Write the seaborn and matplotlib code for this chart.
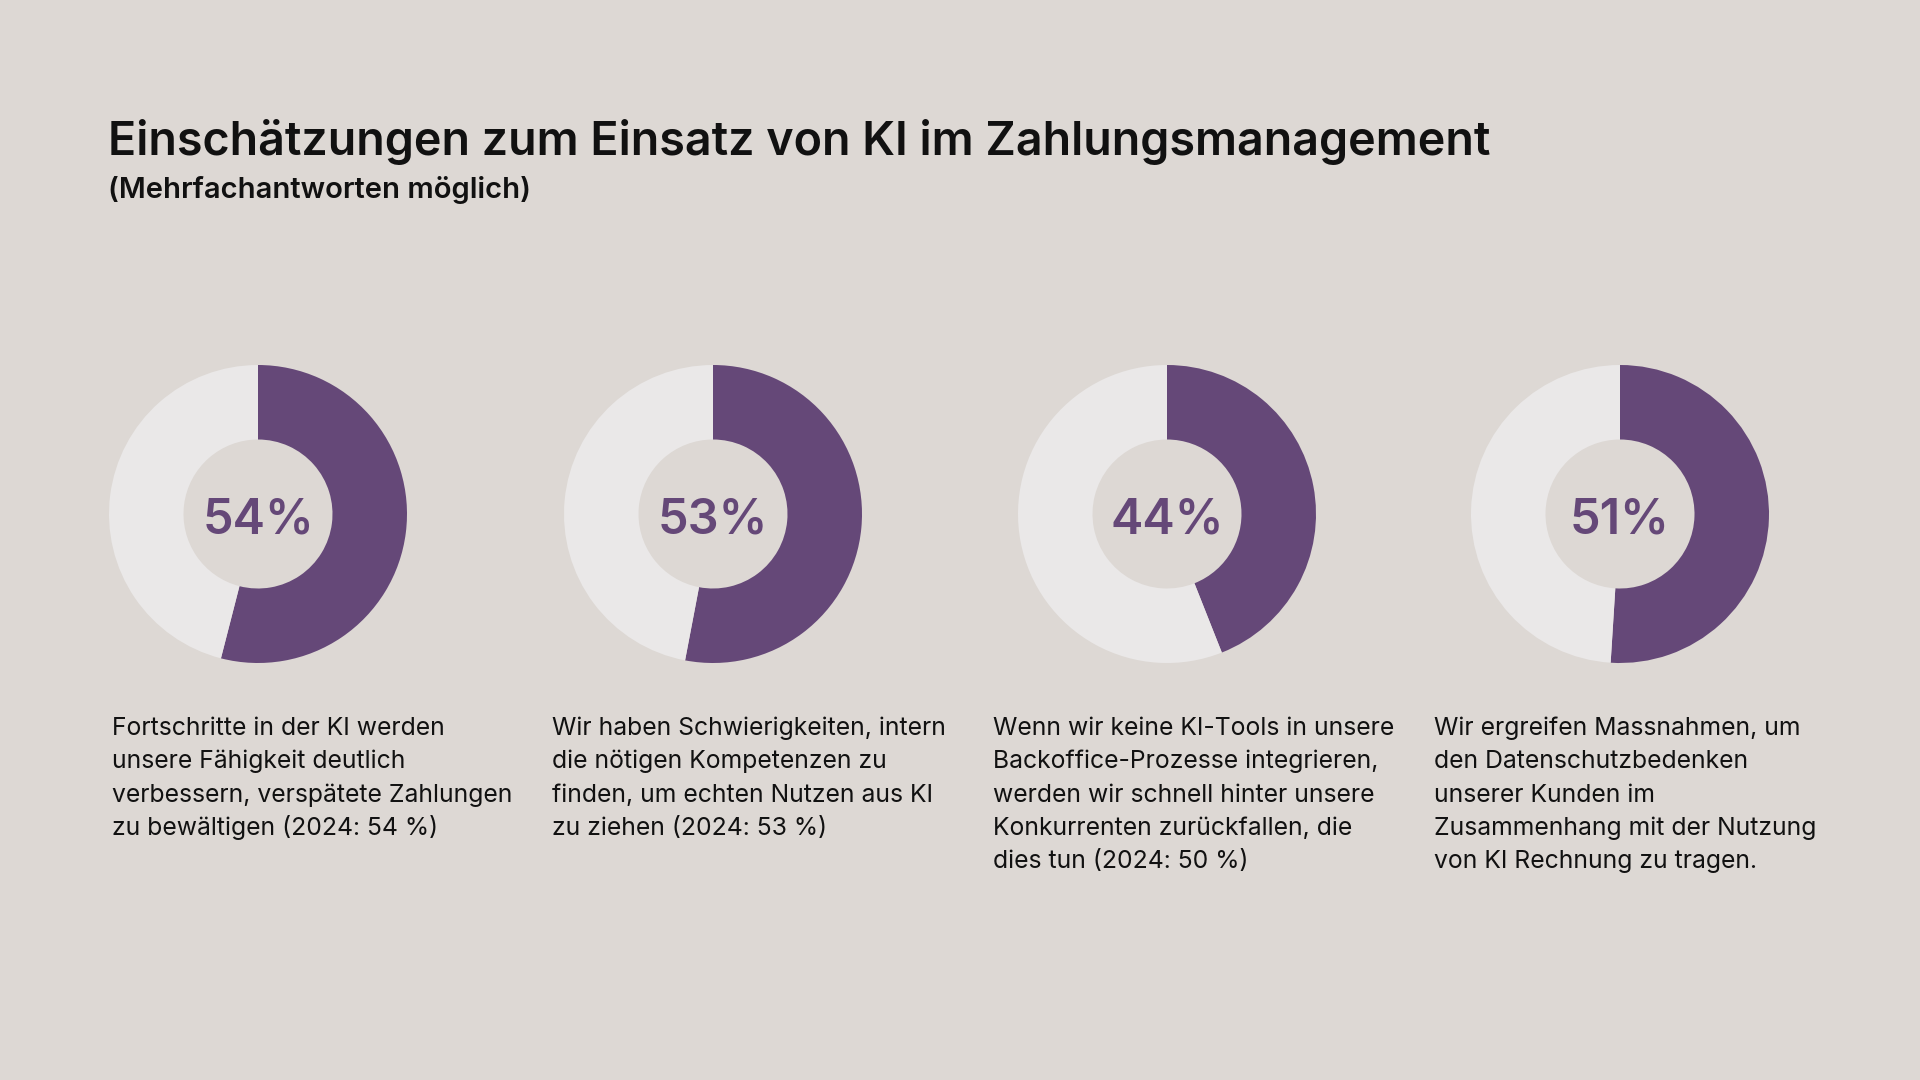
import seaborn as sns
import matplotlib.pyplot as plt

values = [54, 53, 44, 51]
labels = ["54%", "53%", "44%", "51%"]
descriptions = [
    "Fortschritte in der KI werden\nunsere Fähigkeit deutlich\nverbessern, verspätete Zahlungen\nzu bewältigen (2024: 54 %)",
    "Wir haben Schwierigkeiten, intern\ndie nötigen Kompetenzen zu\nfinden, um echten Nutzen aus KI\nzu ziehen (2024: 53 %)",
    "Wenn wir keine KI-Tools in unsere\nBackoffice-Prozesse integrieren,\nwerden wir schnell hinter unsere\nKonkurrenten zurückfallen, die\ndies tun (2024: 50 %)",
    "Wir ergreifen Massnahmen, um\nden Datenschutzbedenken\nunserer Kunden im\nZusammenhang mit der Nutzung\nvon KI Rechnung zu tragen.",
]
title = "Einschätzungen zum Einsatz von KI im Zahlungsmanagement"
subtitle = "(Mehrfachantworten möglich)"

bg = "#ddd8d4"
purple = "#654878"
light = "#eae8e8"

sns.set_theme(style="white")
plt.rcParams['font.family'] = ['Inter', 'DejaVu Sans']

W, H = 1920, 1080
fig = plt.figure(figsize=(19.2, 10.8), dpi=100)
fig.patch.set_facecolor(bg)

fig.text(108 / W, 1 - 155 / H, title, fontsize=33.6, fontweight='semibold',
         color='#111111', ha='left', va='baseline')
fig.text(108 / W, 1 - 198 / H, subtitle, fontsize=21, fontweight='semibold',
         color='#111111', ha='left', va='baseline')

centers_x = [258, 713, 1167, 1620]
cy = 514
r = 149
text_x = [112, 552, 993, 1434]
first_baseline = 735
line_step = 33.3

for i, v in enumerate(values):
    cx = centers_x[i]
    ax = fig.add_axes([(cx - r) / W, 1 - (cy + r) / H, 2 * r / W, 2 * r / H])
    ax.pie([v, 100 - v], colors=[purple, light], startangle=90, counterclock=False,
           radius=1, wedgeprops=dict(width=0.5, linewidth=0))
    ax.set_xlim(-1, 1)
    ax.set_ylim(-1, 1)
    ax.set_aspect('equal')
    ax.axis('off')
    fig.text(cx / W, 1 - 533 / H, labels[i], fontsize=35, fontweight='semibold',
             color=purple, ha='center', va='baseline')
    # draw each line on its own baseline so the spacing stays even
    for k, line in enumerate(descriptions[i].split("\n")):
        y = first_baseline + k * line_step
        fig.text(text_x[i] / W, 1 - y / H, line, fontsize=17.8,
                 color='#111111', ha='left', va='baseline')

fig.savefig("out.png", dpi=100, facecolor=bg)
